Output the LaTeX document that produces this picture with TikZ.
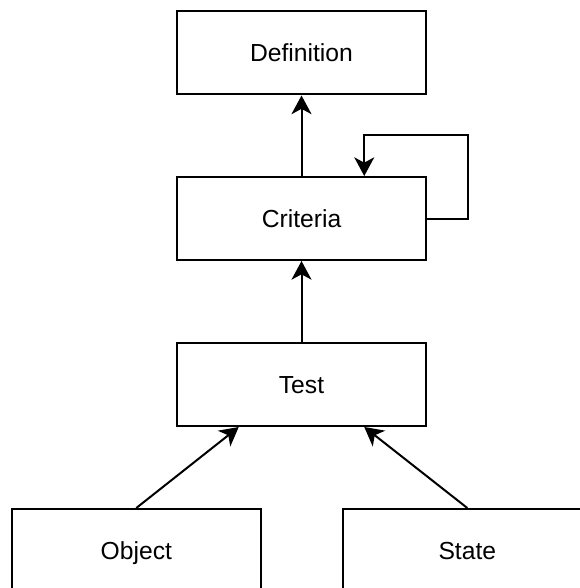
\documentclass[tikz,border=0pt]{standalone}
\usepackage{fontspec}
\setmainfont{Liberation Sans}
\usetikzlibrary{arrows.meta,calc}
\begin{document}
\begin{tikzpicture}[x=0.75pt,y=-0.75pt,
  box/.style={draw=black,line width=1.5pt,fill=white,rectangle,inner sep=0pt,
    minimum width=186.75pt,minimum height=62.25pt,text height=13.3pt,text depth=0pt,
    font=\fontsize{18.5pt}{22pt}\selectfont},
  arr/.style={line width=1.5pt,line join=miter,
    -{Stealth[length=14pt,width=15pt,inset=4pt]}}]
  \useasboundingbox (0,0) rectangle (580,588);
  \begin{scope}
    \clip (0,0) rectangle (580,588);
    \node[box] (Definition) at (301.5,53) {Definition};
    \node[box] (Criteria) at (301.5,218.5) {Criteria};
    \node[box] (Test) at (301.5,384.5) {Test};
    \node[box] (Object) at (136.3,550.5) {Object};
    \node[box] (State) at (467.3,550.5) {State};
  \end{scope}
  % attachment points on the lower and upper edges
  \coordinate (tl) at ($(Test.south west)!0.25!(Test.south east)$);
  \coordinate (tr) at ($(Test.south west)!0.75!(Test.south east)$);
  \coordinate (cq) at ($(Criteria.north west)!0.75!(Criteria.north east)$);
  \draw[arr] (Criteria.north) -- (Definition.south);
  \draw[arr] (Test.north) -- (Criteria.south);
  \draw[arr] (Object.north) -- (tl);
  \draw[arr] (State.north) -- (tr);
  % self loop on Criteria
  \draw[arr] (Criteria.east) -- ++(40.7,0) |- ($(cq)+(0,-41)$) -- (cq);
\end{tikzpicture}
\end{document}
